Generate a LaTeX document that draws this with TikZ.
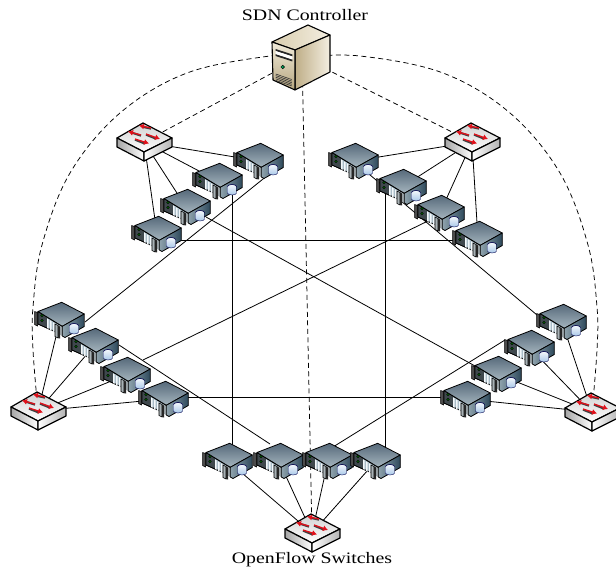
\documentclass[tikz,border=0pt]{standalone}
\usepackage{fontspec}
\setmainfont{Liberation Serif}
\usetikzlibrary{arrows.meta,calc}
\definecolor{swred}{HTML}{E0101A}
\definecolor{racktopd}{HTML}{56697A}
\definecolor{racktopl}{HTML}{A5B5BE}
\definecolor{racksidel}{HTML}{8FA3AD}
\definecolor{racksided}{HTML}{2E4A5C}
\definecolor{rackfront}{HTML}{9FB4C0}
\definecolor{rackslot}{HTML}{F2F7FA}
\definecolor{rackgray}{HTML}{A9B2B6}
\definecolor{diskl}{HTML}{F4F8FC}
\definecolor{diskd}{HTML}{A9C8E8}
\definecolor{twtop}{HTML}{D9CDAE}
\definecolor{twsd}{HTML}{BFAE87}
\definecolor{twsl}{HTML}{F3EEE1}
\definecolor{twfl}{HTML}{F1EBDA}
\definecolor{twfd}{HTML}{B6A67F}
\tikzset{
  x=1pt,y=-1pt,
  link/.style={draw=black,line width=0.8pt},
  ctrl/.style={draw=black,line width=0.75pt,dash pattern=on 5pt off 3.5pt},
  lbl/.style={font=\fontsize{16}{18}\selectfont,text=black,inner sep=0pt},
  edge/.style={draw=black,line width=0.8pt,line join=round},
  swedge/.style={draw=black,line width=1.2pt,line join=round},
  swarrow/.style={draw=swred,line width=1.3pt,-{Latex[length=5pt,width=6pt]}},
  swshadow/.style={draw=black!75,line width=2pt},
  rack/.pic={
    \path[draw=black,line width=0.5pt,fill=black!70] (-25.5,-8.5) -- (-22.5,-7.5) -- (-22.5,6) -- (-25.5,4.5) -- cycle;
    \path[edge,fill=rackfront] (-22,-8.5) -- (2.3,6.3) -- (2.3,15) -- (-22,4) -- cycle;
    \fill[black!60!rackfront] (-22,-8.5) -- (-13,-3) -- (-13,8) -- (-22,4) -- cycle;
    \fill[rackgray] (-3,5) -- (2.3,6.3) -- (2.3,16) -- (-3,13) -- cycle;
    \draw[edge] (-22,-8.5) -- (2.3,6.3) (-22,-8.5) -- (-22,4) -- (-4,12);
    \path[edge,top color=racktopd,bottom color=racktopl]
      (1.7,-17.7) -- (24.3,-6) -- (2.3,6.3) -- (-22,-8.5) -- cycle;
    \path[edge,left color=racksidel,right color=racksided]
      (2.3,6.3) -- (24.3,-6) -- (24.3,6.5) -- (5,17.5) -- (2.3,16) -- cycle;
    \foreach \i in {0,1,2,3}
      \fill[rackslot] ({-13+\i*2.9},{-1.5+\i*1.8}) -- ++(1.7,1) -- ++(0,9.5) -- ++(-1.7,-1) -- cycle;
    \path[fill=green!40!black,draw=black,line width=0.3pt] (-18,-4.5) circle (1.3) (-18,0.5) circle (1.3);
    \path[draw=black,line width=0.6pt,fill=rackgray] (-5,4) -- (-2,5.5) -- (-2,18) -- (-5,16.5) -- cycle;
    \fill[black!85] (-2,5.5) -- (0,6.5) -- (0,18.5) -- (-2,18) -- cycle;
    \path[draw=black!70!blue,line width=0.4pt,top color=diskl,bottom color=diskd]
      (9.5,5.5) -- (9.5,12) arc[start angle=180,end angle=360,x radius=4.5,y radius=-2] -- (18.5,5.5) arc[start angle=0,end angle=-180,x radius=4.5,y radius=2] -- cycle;
    \draw[draw=black!70!blue,line width=0.4pt] (9.5,5.5) arc[start angle=180,end angle=360,x radius=4.5,y radius=2];
  },
  switchbox/.pic={
    \path[swedge,top color=black!18,bottom color=white] (-1,-19) -- (28,-4) -- (0,10) -- (-27,-4) -- cycle;
    \path[swedge,left color=black!35,right color=white] (-27,-4) -- (0,10) -- (0,19) -- (-27,5) -- cycle;
    \path[swedge,left color=white,right color=black!30] (28,-4) -- (0,10) -- (0,19) -- (28,5) -- cycle;
    \draw[swshadow] (7,-13.3) -- (-2,-15.3) (-3,-6.3) -- (-12,-9.3) (2,-7.3) -- (12,-3.3) (-9,-2.3) -- (1,1.7);
    \draw[swarrow] (7,-14) -- (-5,-16.5);
    \draw[swarrow] (-3,-7) -- (-16,-10.5);
    \draw[swarrow] (2,-8) -- (16,-3);
    \draw[swarrow] (-9,-3) -- (5,1.5);
  },
  towerbox/.pic={
    \path[edge,line width=1.1pt,left color=twtop,right color=twsl] (6,-32) -- (28,-22) -- (-7,-7) -- (-30,-15) -- cycle;
    \path[edge,line width=1.1pt,left color=twsd,right color=twsl]
      (-7,-7) -- (28,-22) -- (28,15) -- (-7,33) -- cycle;
    \path[edge,line width=1.1pt,top color=twfl,bottom color=twfd]
      (-30,-15) -- (-7,-7) -- (-7,33) -- (-29,23) -- cycle;
    \fill[black!85] (-26.3,-8) -- (-9.7,-2.5) -- (-9.7,-0.5) -- (-26.3,-6) -- cycle;
    \fill[black!85] (-26.3,-3) -- (-9.7,2.5) -- (-9.7,4.5) -- (-26.3,-1) -- cycle;
    \fill[white] (-26.3,-6) -- (-9.7,-0.5) -- (-9.7,2.5) -- (-26.3,-3) -- cycle;
    \path[fill=teal!70!green,draw=black,line width=0.4pt] (-19.3,10) circle (1.8);
    \foreach \i in {0,1,2,3,4}
      \draw[black!80,line width=0.6pt] (-26.3,{17+\i*1.6}) -- (-10.3,{22.5+\i*1.6});
  }
}
\begin{document}
\begin{tikzpicture}
\useasboundingbox (0,0) rectangle (616,572);
\coordinate (ctl) at (302,57);
\coordinate (swtl) at (144,142);
\coordinate (swtr) at (472,142);
\coordinate (swl) at (38,411);
\coordinate (swr) at (592,412);
\coordinate (swb) at (312,533);
\coordinate (tla) at (259,161);
\coordinate (tlb) at (218,181);
\coordinate (tlc) at (186,207);
\coordinate (tld) at (157,234);
\coordinate (tra) at (354,161);
\coordinate (trb) at (402,187);
\coordinate (trc) at (440,213);
\coordinate (trd) at (478,239);
\coordinate (la) at (60,320);
\coordinate (lb) at (94,346);
\coordinate (lc) at (126,375);
\coordinate (ld) at (164,399);
\coordinate (ra) at (562,322);
\coordinate (rb) at (530,348);
\coordinate (rc) at (497,374);
\coordinate (rd) at (466,399);
\coordinate (ba) at (228,461);
\coordinate (bb) at (279,461);
\coordinate (bc) at (328,461);
\coordinate (bd) at (376,461);
\foreach \s/\h in {swtl/tla,swtl/tlb,swtl/tlc,swtl/tld,swtr/tra,swtr/trb,swtr/trc,swtr/trd,
                   swl/la,swl/lb,swl/lc,swl/ld,swr/ra,swr/rb,swr/rc,swr/rd,
                   swb/ba,swb/bb,swb/bc,swb/bd}
  \draw[link] (\s) -- (\h);
\draw[link] ([shift={(14,10)}]tla) -- ([shift={(25,2)}]la);
\draw[link] ([shift={(14,0)}]tlb) -- ([shift={(4,0)}]ba);
\draw[link] ([shift={(20,10)}]tlc) -- ([shift={(-22,-8)}]rc);
\draw[link] ([shift={(18,6)}]tld) -- ([shift={(-22,1)}]trd);
\draw[link] ([shift={(12,10.6)}]tra) -- ([shift={(-25,-7)}]ra);
\draw[link] ([shift={(-17,0)}]trb) -- ([shift={(9,0)}]bd);
\draw[link] ([shift={(-10,7)}]trc) -- ([shift={(17,-15)}]lc);
\draw[link] ([shift={(25,-1)}]lb) -- ([shift={(-9,-17)}]bb);
\draw[link] ([shift={(24,-2)}]ld) -- ([shift={(-24,-2)}]rd);
\draw[link] ([shift={(-25,-8)}]rb) -- ([shift={(5,-14)}]bc);
\draw[ctrl] (ctl) -- (swb);
\draw[ctrl] (ctl) -- (swtl);
\draw[ctrl] (ctl) -- (swtr);
\draw[ctrl] plot[smooth,tension=0.6] coordinates {(ctl) (270,56) (187,73) (120,113) (70,173) (42,245) (33,307) (33,350) (swl)};
\draw[ctrl] plot[smooth,tension=0.6] coordinates {(ctl) (360,56) (443,73) (510,113) (560,173) (588,245) (597,307) (597,350) (swr)};
\foreach \h in {tla,tlb,tlc,tld,tra,trb,trc,trd,la,lb,lc,ld,ra,rb,rc,rd,ba,bb,bc,bd}
  \pic at (\h) {rack};
\foreach \s in {swtl,swtr,swl,swr,swb}
  \pic at (\s) {switchbox};
\pic at (ctl) {towerbox};
\node[lbl] (title) at (305,15) {\scalebox{1.24}[1]{SDN Controller}};
\node[lbl] (caption) at (312,560) {\scalebox{1.24}[1]{OpenFlow Switches}};
\end{tikzpicture}
\end{document}
